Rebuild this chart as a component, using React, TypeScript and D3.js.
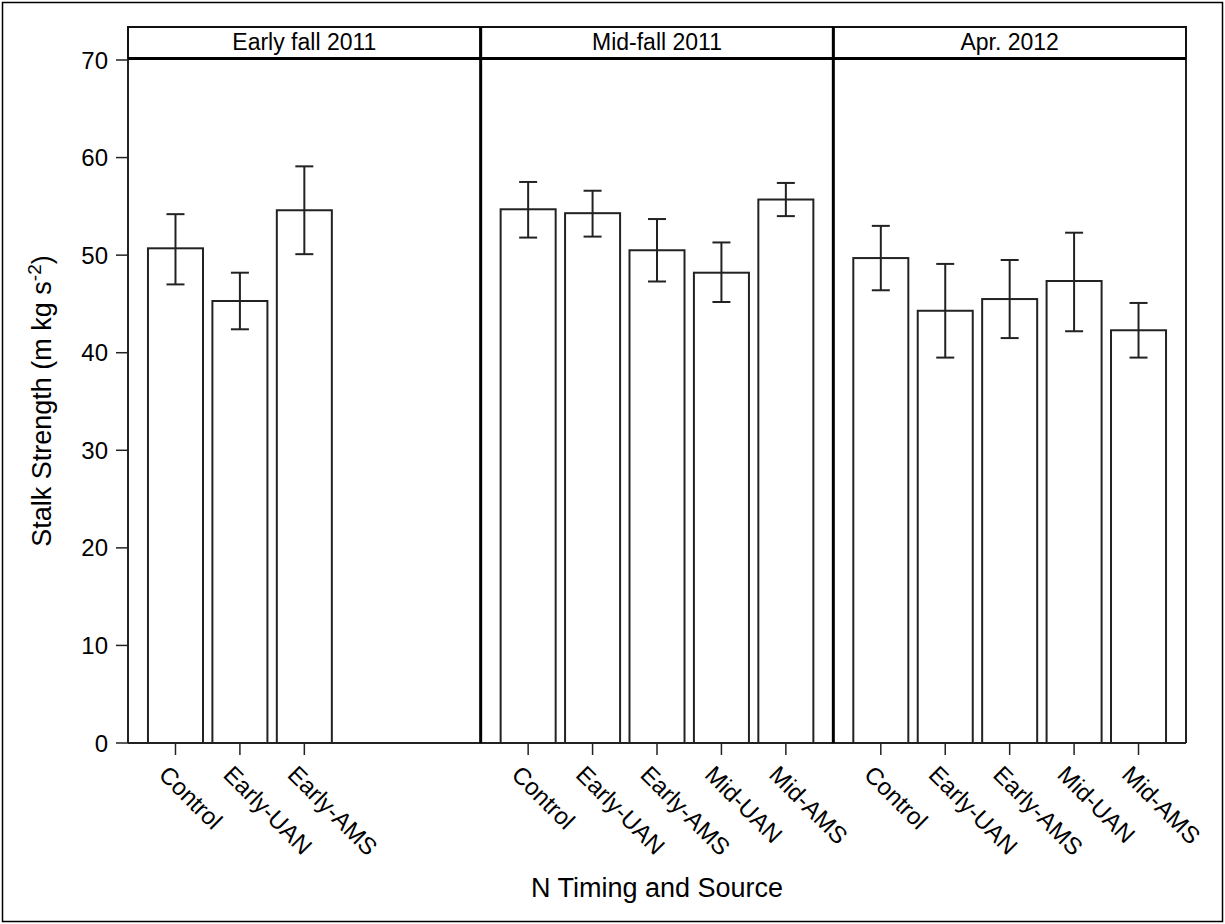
import * as d3 from "d3";
import React from "react";

// panels (application timing) and treatments
const panels = ["Early fall 2011", "Mid-fall 2011", "Apr. 2012"];
const treatments = ["Control", "Early-UAN", "Early-AMS", "Mid-UAN", "Mid-AMS"];

// stalk strength means and error bar ends, per panel
const panelTreatments = [
  ["Control", "Early-UAN", "Early-AMS"],
  ["Control", "Early-UAN", "Early-AMS", "Mid-UAN", "Mid-AMS"],
  ["Control", "Early-UAN", "Early-AMS", "Mid-UAN", "Mid-AMS"],
];
const means = [
  [50.7, 45.3, 54.6],
  [54.7, 54.3, 50.5, 48.2, 55.7],
  [49.7, 44.3, 45.5, 47.35, 42.3],
];
const upper = [
  [54.2, 48.2, 59.1],
  [57.5, 56.6, 53.7, 51.3, 57.4],
  [53.0, 49.1, 49.5, 52.3, 45.1],
];
const lower = [
  [47.0, 42.4, 50.1],
  [51.8, 51.9, 47.3, 45.2, 54.0],
  [46.4, 39.5, 41.5, 42.2, 39.5],
];
const yTicks = [0, 10, 20, 30, 40, 50, 60, 70];

const W = 1225;
const H = 924;
const left = 128;
const right = 1186;
const top = 58.5;
const bottom = 743;
const stripTop = 27;
const font = "'Liberation Sans', Arial, sans-serif";

export default function App() {
  const y = d3.scaleLinear().domain([0, 70]).range([bottom, 60]);
  const panelW = (right - left) / panels.length;
  const capHalf = 9;

  return (
    <svg
      width={W}
      height={H}
      style={{ position: "absolute", left: 0, top: 0, background: "#fff" }}
      fontFamily={font}
    >
      <rect x={2.5} y={2.5} width={W - 5} height={H - 5} fill="none" stroke="#000" strokeWidth={1.5} />

      {/* y axis */}
      {yTicks.map((t) => (
        <g key={t}>
          <line x1={left - 12} x2={left} y1={y(t)} y2={y(t)} stroke="#222" strokeWidth={1.5} />
          <text x={left - 20} y={y(t)} dy="0.36em" textAnchor="end" fontSize={24}>
            {t}
          </text>
        </g>
      ))}
      <text
        transform={`translate(51,${401}) rotate(-90)`}
        textAnchor="middle"
        fontSize={27}
      >
        Stalk Strength (m kg s
        <tspan dy={-10} fontSize={19}>-2</tspan>
        <tspan dy={10}>)</tspan>
      </text>

      {panels.map((p, i) => {
        const x0 = left + i * panelW;
        const x = d3
          .scaleBand()
          .domain(treatments)
          .range([x0, x0 + panelW])
          .paddingInner(0.146)
          .paddingOuter(0.31);
        const bw = x.bandwidth();
        return (
          <g key={p}>
            {/* strip header */}
            <rect x={x0} y={stripTop} width={panelW} height={top - stripTop} fill="#fff" stroke="#111" strokeWidth={2} />
            <text x={x0 + panelW / 2} y={stripTop + 23} textAnchor="middle" fontSize={23}>
              {p}
            </text>
            {panelTreatments[i].map((t, j) => {
              const cx = (x(t) as number) + bw / 2;
              return (
                <g key={t}>
                  <rect
                    x={x(t)}
                    y={y(means[i][j])}
                    width={bw}
                    height={y(0) - y(means[i][j])}
                    fill="#fff"
                    stroke="#222"
                    strokeWidth={2}
                  />
                  <line x1={cx} x2={cx} y1={y(upper[i][j])} y2={y(lower[i][j])} stroke="#222" strokeWidth={2} />
                  <line x1={cx - capHalf} x2={cx + capHalf} y1={y(upper[i][j])} y2={y(upper[i][j])} stroke="#222" strokeWidth={2} />
                  <line x1={cx - capHalf} x2={cx + capHalf} y1={y(lower[i][j])} y2={y(lower[i][j])} stroke="#222" strokeWidth={2} />
                  <line x1={cx} x2={cx} y1={bottom} y2={bottom + 12} stroke="#222" strokeWidth={1.5} />
                  <text
                    transform={`translate(${cx - 18},${bottom + 33}) rotate(45)`}
                    fontSize={24}
                    textAnchor="start"
                  >
                    {t}
                  </text>
                </g>
              );
            })}
          </g>
        );
      })}

      {/* plot frame */}
      <line x1={left} x2={left} y1={top} y2={bottom} stroke="#222" strokeWidth={2} />
      <line x1={right} x2={right} y1={top} y2={bottom} stroke="#222" strokeWidth={2} />
      <line x1={left} x2={right} y1={bottom} y2={bottom} stroke="#222" strokeWidth={2} />
      <line x1={left} x2={right} y1={top} y2={top} stroke="#000" strokeWidth={3} />
      {[1, 2].map((k) => (
        <line
          key={k}
          x1={left + k * panelW}
          x2={left + k * panelW}
          y1={stripTop}
          y2={bottom}
          stroke="#000"
          strokeWidth={3}
        />
      ))}

      <text x={657} y={897} textAnchor="middle" fontSize={27}>
        N Timing and Source
      </text>
    </svg>
  );
}
